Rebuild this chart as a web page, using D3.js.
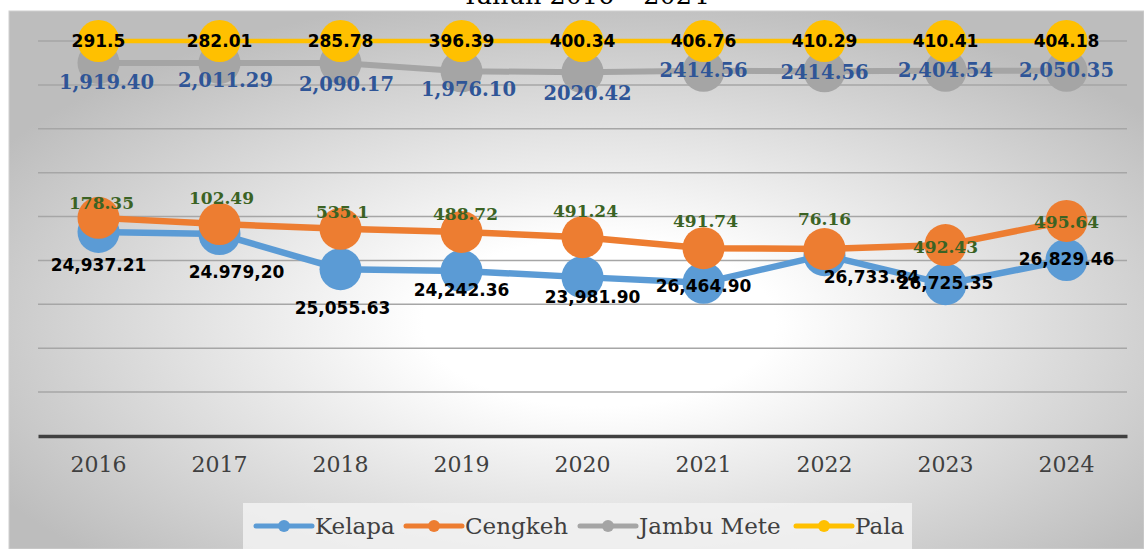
<!DOCTYPE html>
<html>
<head>
<meta charset="utf-8">
<script src="https://cdn.jsdelivr.net/npm/d3@7"></script>
<style>
  html, body { margin: 0; padding: 0; background: #fff; }
  svg { display: block; }
</style>
</head>
<body>
<div id="chart"></div>
<script>
// data (positions in gridline units, labels as printed)
const years = ["2016", "2017", "2018", "2019", "2020", "2021", "2022", "2023", "2024"];
const seriesNames = ["Kelapa", "Cengkeh", "Jambu Mete", "Pala"];

const kelapaPos = [4.65, 4.60, 3.80, 3.76, 3.62, 3.49, 4.12, 3.46, 4.01];
const kelapaLabels = ["24,937.21", "24.979,20", "25,055.63", "24,242.36", "23,981.90", "26,464.90", "26,733.84", "26,725.35", "26,829.46"];

const cengkehPos = [4.97, 4.83, 4.72, 4.65, 4.53, 4.28, 4.26, 4.35, 4.90];
const cengkehLabels = ["178.35", "102.49", "535.1", "488.72", "491.24", "491.74", "76.16", "492.43", "495.64"];

const jambuPos = [8.50, 8.50, 8.50, 8.31, 8.29, 8.32, 8.31, 8.32, 8.32];
const jambuLabels = ["1,919.40", "2,011.29", "2,090.17", "1,976.10", "2020.42", "2414.56", "2414.56", "2,404.54", "2,050.35"];

const palaPos = [9, 9, 9, 9, 9, 9, 9, 9, 9];
const palaLabels = ["291.5", "282.01", "285.78", "396.39", "400.34", "406.76", "410.29", "410.41", "404.18"];

// layout: label nudges in px (hand-dragged labels in the original)
const kelapaNudge = [[0, 33], [17, 38], [2, 39], [0, 19], [10, 20], [0, 3], [47, 22], [0, -1], [0, -1]];
const cengkehNudge = [[3, -15], [2, -26], [2, -17], [4, -18], [3, -26], [2, -27], [0, -30], [0, 2], [0, 1]];
const jambuNudge = [[8, 20], [6, 18], [6, 22], [7, 18], [5, 21], [0, 0], [0, 1], [0, 0], [0, 0]];
const palaNudge = years.map(() => [0, 0]);

const series = [
  { name: seriesNames[0], pos: kelapaPos, labels: kelapaLabels, nudge: kelapaNudge,
    color: "#5B9BD5", width: 6.5, textColor: "#000", font: "DejaVu Sans", size: 17 },
  { name: seriesNames[1], pos: cengkehPos, labels: cengkehLabels, nudge: cengkehNudge,
    color: "#ED7D31", width: 6.5, textColor: "#3B6324", font: "DejaVu Serif", size: 17 },
  { name: seriesNames[2], pos: jambuPos, labels: jambuLabels, nudge: jambuNudge,
    color: "#A5A5A5", width: 6, textColor: "#2F5597", font: "DejaVu Serif", size: 19.5 },
  { name: seriesNames[3], pos: palaPos, labels: palaLabels, nudge: palaNudge,
    color: "#FFC000", width: 4.5, textColor: "#000", font: "DejaVu Sans", size: 17 }
];

// dimensions
const w = 1144;
const h = 549;
const plotLeft = 38;
const plotRight = 1127;
const plotTop = 41;
const plotBottom = 436;

const svg = d3.select("#chart")
  .append("svg")
  .attr("width", w)
  .attr("height", h);

// background panel with radial gradient
const defs = svg.append("defs");
const grad = defs.append("radialGradient")
  .attr("id", "bg")
  .attr("cx", "52%").attr("cy", "58%")
  .attr("r", "62%");
grad.append("stop").attr("offset", "0%").attr("stop-color", "#ffffff");
grad.append("stop").attr("offset", "25%").attr("stop-color", "#ffffff");
grad.append("stop").attr("offset", "100%").attr("stop-color", "#bdbdbd");

svg.append("rect")
  .attr("x", 9).attr("y", 11)
  .attr("width", w - 9).attr("height", h - 11)
  .attr("fill", "url(#bg)")
  .attr("stroke", "#d0d0d0")
  .attr("stroke-width", 1);

// title (cut off at the top in the original)
svg.append("text")
  .text("Tahun 2016 – 2024")
  .attr("x", 585)
  .attr("y", 4)
  .attr("text-anchor", "middle")
  .style("font-family", "DejaVu Serif")
  .style("font-size", "25.5px")
  .style("fill", "#000");

// scales
const xScale = d3.scaleBand()
  .domain(years)
  .range([plotLeft, plotRight]);
const yScale = d3.scaleLinear()
  .domain([0, 9])
  .range([plotBottom, plotTop]);
const xc = d => xScale(d) + xScale.bandwidth() / 2;

// gridlines
svg.append("g")
  .selectAll("line")
  .data(d3.range(1, 10))
  .enter()
  .append("line")
  .attr("x1", plotLeft).attr("x2", plotRight)
  .attr("y1", d => yScale(d)).attr("y2", d => yScale(d))
  .attr("stroke", "#a6a6a6")
  .attr("stroke-width", 1.5);

// x axis
const xAxis = d3.axisBottom(xScale).tickSize(0).tickPadding(20);
const gx = svg.append("g")
  .attr("transform", `translate(0, ${plotBottom})`)
  .call(xAxis);
gx.select(".domain")
  .attr("stroke", "#404040")
  .attr("stroke-width", 3.5);
gx.selectAll("text")
  .style("font-family", "DejaVu Serif")
  .style("font-size", "22px")
  .style("fill", "#404040");

// lines + markers
const line = d3.line()
  .x((d, i) => xc(years[i]))
  .y(d => yScale(d));

series.forEach(s => {
  svg.append("path")
    .datum(s.pos)
    .attr("d", line)
    .attr("fill", "none")
    .attr("stroke", s.color)
    .attr("stroke-width", s.width)
    .attr("stroke-linejoin", "round");
  svg.append("g")
    .selectAll("circle")
    .data(s.pos)
    .enter()
    .append("circle")
    .attr("cx", (d, i) => xc(years[i]))
    .attr("cy", d => yScale(d))
    .attr("r", 21)
    .attr("fill", s.color);
});

// data labels on top
series.forEach(s => {
  svg.append("g")
    .selectAll("text")
    .data(s.pos)
    .enter()
    .append("text")
    .text((d, i) => s.labels[i])
    .attr("x", (d, i) => xc(years[i]) + s.nudge[i][0])
    .attr("y", (d, i) => yScale(d) + s.nudge[i][1])
    .attr("text-anchor", "middle")
    .attr("dominant-baseline", "central")
    .style("font-family", s.font)
    .style("font-weight", "bold")
    .style("font-size", s.size + "px")
    .style("fill", s.textColor);
});

// legend
const legend = svg.append("g");
legend.append("rect")
  .attr("x", 243).attr("y", 503)
  .attr("width", 669).attr("height", 46)
  .attr("fill", "#f2f2f2")
  .attr("fill-opacity", 0.85);

const legendX = [256, 406, 580, 796];
series.forEach((s, i) => {
  const g = legend.append("g")
    .attr("transform", `translate(${legendX[i]}, 526)`);
  g.append("line")
    .attr("x1", 0).attr("x2", 56)
    .attr("y1", 0).attr("y2", 0)
    .attr("stroke", s.color)
    .attr("stroke-width", 5)
    .attr("stroke-linecap", "round");
  g.append("circle")
    .attr("cx", 28).attr("cy", 0)
    .attr("r", 6)
    .attr("fill", s.color);
  g.append("text")
    .text(s.name)
    .attr("x", 59)
    .attr("y", 0)
    .attr("dominant-baseline", "central")
    .style("font-family", "DejaVu Serif")
    .style("font-size", "23px")
    .style("fill", "#404040");
});
</script>
</body>
</html>
